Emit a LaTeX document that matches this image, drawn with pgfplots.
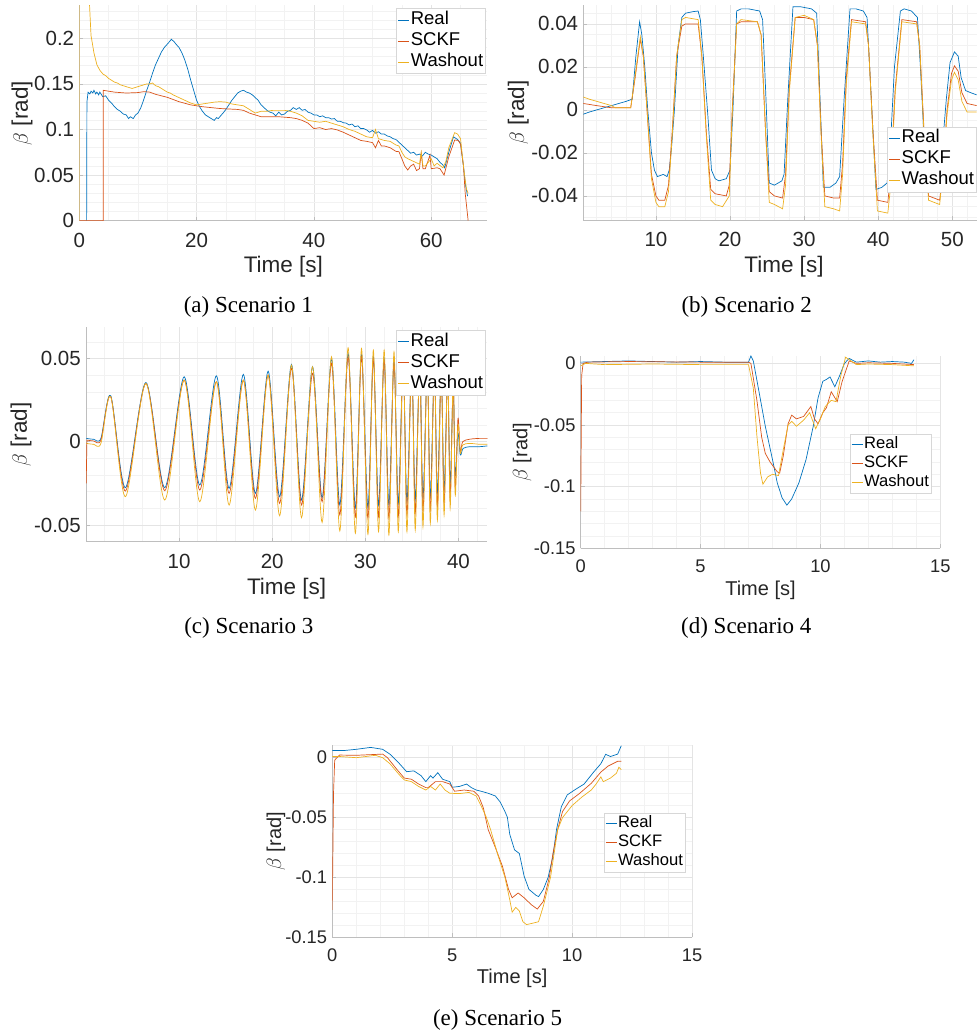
\documentclass[border=0pt]{standalone}
\usepackage{pgfplots}
\pgfplotsset{compat=1.18}
\usepackage{fontspec}
\setmainfont{Liberation Sans}
\newfontfamily\capfont{Liberation Serif}
\definecolor{creal}{RGB}{0,114,189}
\definecolor{csckf}{RGB}{217,83,25}
\definecolor{cwash}{RGB}{237,177,32}
\definecolor{axisgray}{RGB}{190,190,190}
\definecolor{majorgrid}{RGB}{228,228,228}
\definecolor{minorgrid}{RGB}{242,242,242}
\definecolor{tickcol}{RGB}{38,38,38}
\definecolor{leggray}{RGB}{215,215,215}
\newcommand\fta{\fontsize{20.5}{24}\selectfont}
\newcommand\fla{\fontsize{22.5}{26}\selectfont}
\newcommand\fga{\fontsize{18.5}{22}\selectfont}
\newcommand\ftd{\fontsize{18.3}{22}\selectfont}
\newcommand\fld{\fontsize{20}{24}\selectfont}
\newcommand\fgd{\fontsize{16.6}{20}\selectfont}
\pgfplotsset{
  mystyle/.style={
    scale only axis,
    scaled x ticks=false, scaled y ticks=false,
    axis x line*=bottom, axis y line*=left,
    axis line style={draw=axisgray, line width=0.6pt},
    tick align=inside,
    major tick length=4pt, minor tick length=0pt,
    tick style={draw=axisgray, line width=0.6pt},
    grid=both,
    major grid style={draw=majorgrid, line width=0.5pt},
    minor grid style={draw=minorgrid, line width=0.5pt},
    /pgf/number format/assume math mode=true,
    ticklabel style={text=tickcol, inner sep=1pt},
    xlabel style={text=tickcol, anchor=center},
    ylabel style={text=tickcol, anchor=center},
    legend cell align=left,
    legend image code/.code={\draw[##1] (0pt,0pt) -- (11pt,0pt);},
    legend style={draw=leggray, fill=white, inner xsep=1.5pt, inner ysep=1pt,
      row sep=0pt, nodes={inner sep=1pt, text height=14pt, text depth=5pt}},
    every axis plot/.append style={line width=0.7pt},
    xlabel={Time [s]},
    ylabel={$\beta$ [rad]},
  },
}
\begin{document}
\begin{tikzpicture}
\path[use as bounding box] (0pt,0pt) rectangle (977pt,1034pt);

% ---------------- (a) ----------------
\begin{axis}[mystyle,
  at={(79.3pt,813.3pt)}, anchor=south west,
  width=408.2pt, height=215.2pt,
  xmin=0, xmax=69.6, ymin=0, ymax=0.236,
  xtick={0,20,40,60}, xticklabels={0,20,40,60},
  ytick={0,0.05,0.1,0.15,0.2}, yticklabels={0,0.05,0.1,0.15,0.2},
  minor xtick={5,10,15,25,30,35,45,50,55,65},
  minor ytick={0.01,0.02,0.03,0.04,0.06,0.07,0.08,0.09,0.11,0.12,0.13,0.14,0.16,0.17,0.18,0.19,0.21,0.22,0.23},
  ticklabel style={font=\fta},
  xticklabel style={yshift=-11pt},
  yticklabel style={xshift=-4pt},
  xlabel style={font=\fla, at={(axis description cs:0.5,-0.214)}},
  ylabel style={font=\fla, at={(axis description cs:-0.14,0.5)}},
  legend style={font=\fga, at={(axis description cs:0.996,0.987)}, anchor=north east},
]
\addplot[creal] coordinates {(1.25,0) (1.3,0.13) (1.5,0.141) (1.8,0.139) (2,0.142) (2.3,0.140) (2.5,0.143) (2.8,0.139) (3,0.141) (3.3,0.138) (3.5,0.141) (4,0.136) (4.5,0.137) (5,0.132) (5.5,0.129) (6,0.125) (6.5,0.122) (7,0.120) (7.5,0.117) (8,0.116) (8.4,0.112) (8.7,0.114) (9.2,0.112) (9.6,0.116) (10,0.118) (10.5,0.124) (11,0.133) (11.5,0.143) (12,0.152) (12.5,0.162) (13,0.171) (13.5,0.178) (14,0.185) (14.5,0.190) (15.2,0.195) (15.7,0.199) (16.2,0.196) (16.7,0.192) (17,0.190) (17.5,0.184) (18,0.176) (18.5,0.166) (19,0.154) (19.5,0.143) (20,0.132) (20.5,0.125) (21,0.12) (21.5,0.116) (22,0.114) (22.5,0.112) (23,0.110) (23.4,0.113) (23.7,0.112) (24.5,0.118) (25,0.122) (25.5,0.127) (26,0.132) (26.5,0.136) (27,0.140) (27.5,0.142) (28,0.143) (28.5,0.141) (29,0.14) (29.5,0.138) (30,0.135) (30.5,0.132) (31,0.127) (31.5,0.124) (32,0.121) (32.5,0.119) (33,0.118) (33.5,0.115) (34,0.119) (34.5,0.116) (35,0.117) (35.5,0.120) (36,0.121) (36.5,0.124) (37,0.122) (37.5,0.124) (38,0.121) (38.5,0.122) (39,0.119) (39.5,0.118) (40,0.116) (40.5,0.116) (41,0.114) (41.5,0.115) (42,0.113) (42.5,0.113) (43,0.1115) (43.5,0.112) (44,0.109) (44.5,0.109) (45,0.1075) (45.5,0.107) (46,0.105) (46.5,0.106) (47,0.103) (47.5,0.104) (48,0.101) (48.5,0.101) (49,0.0995) (49.5,0.097) (50,0.099) (50.5,0.096) (51,0.0976) (51.5,0.095) (52,0.095) (52.5,0.093) (53,0.092) (53.5,0.090) (54,0.089) (54.5,0.086) (55,0.083) (55.5,0.080) (56,0.077) (56.5,0.074) (57,0.075) (57.5,0.072) (58,0.073) (58.5,0.071) (59,0.075) (59.5,0.073) (60,0.072) (60.5,0.070) (61,0.068) (61.5,0.064) (62,0.061) (62.3,0.058) (63,0.075) (63.8,0.092) (64.5,0.089) (65,0.085) (65.5,0.06) (65.8,0.041) (66.2,0.027)};
\addlegendentry{Real}
\addplot[csckf] coordinates {(0,0) (4.1,0) (4.1,0.143) (5,0.142) (6,0.141) (8,0.140) (10,0.1405) (11,0.1415) (12,0.141) (13,0.1386) (15,0.1353) (17,0.1305) (19,0.127) (21,0.125) (24,0.123) (27,0.122) (28,0.121) (29,0.118) (30,0.116) (31,0.114) (32,0.114) (34,0.114) (36,0.113) (37,0.112) (38,0.11) (39,0.107) (40,0.101) (41,0.102) (42,0.1) (43,0.101) (44,0.0995) (45,0.097) (46,0.094) (47,0.091) (48,0.088) (49,0.087) (50,0.0856) (50.5,0.08) (51,0.088) (51.5,0.082) (52,0.082) (53,0.08) (54,0.076) (54.5,0.0757) (55,0.068) (55.5,0.06) (56,0.0556) (56.5,0.06) (57,0.062) (57.5,0.055) (58,0.057) (58.3,0.074) (58.6,0.057) (59,0.057) (59.8,0.072) (60,0.057) (61,0.058) (61.5,0.057) (62.2,0.05) (63,0.07) (64,0.0885) (64.6,0.088) (65,0.084) (65.5,0.06) (65.8,0.03) (66.3,0)};
\addlegendentry{SCKF}
\addplot[cwash] coordinates {(0,0) (0.01,0.32) (1.6,0.245) (1.75,0.236) (2.0,0.203) (2.5,0.184) (3,0.171) (3.5,0.165) (4,0.161) (4.5,0.159) (5,0.156) (5.5,0.154) (6,0.152) (6.5,0.151) (7,0.149) (7.5,0.148) (8,0.147) (8.5,0.146) (9,0.145) (9.5,0.146) (10,0.147) (10.5,0.148) (11,0.149) (11.5,0.150) (12,0.15) (12.5,0.151) (13,0.148) (13.5,0.147) (14,0.145) (14.5,0.143) (15,0.141) (15.5,0.140) (16,0.138) (17,0.135) (18,0.132) (19,0.129) (20,0.127) (21,0.128) (22,0.129) (23,0.13) (24,0.1305) (25,0.13) (26,0.128) (27,0.127) (28,0.126) (29,0.122) (30,0.118) (31,0.12) (32,0.12) (33,0.121) (34,0.121) (35,0.121) (36,0.12) (37,0.118) (38,0.115) (39,0.11) (40,0.109) (41,0.108) (42,0.109) (43,0.107) (44,0.105) (45,0.103) (46,0.1) (47,0.098) (48,0.095) (49,0.092) (50,0.091) (50.5,0.1) (51,0.09) (52,0.088) (53,0.087) (54,0.083) (54.5,0.082) (55,0.075) (55.5,0.07) (56,0.068) (57,0.065) (58,0.062) (58.3,0.075) (58.6,0.06) (59,0.06) (60,0.068) (60.5,0.06) (61,0.063) (62,0.058) (62.5,0.065) (63,0.08) (64,0.0965) (64.5,0.095) (65,0.09) (65.5,0.06) (66,0.035) (66.3,0.03)};
\addlegendentry{Washout}
\end{axis}

% ---------------- (b) ----------------
\begin{axis}[mystyle,
  at={(583.3pt,814pt)}, anchor=south west,
  width=393.4pt, height=215pt,
  xmin=0.2, xmax=53.3, ymin=-0.0512, ymax=0.0488,
  xtick={10,20,30,40,50}, xticklabels={10,20,30,40,50},
  ytick={-0.04,-0.02,0,0.02,0.04}, yticklabels={-0.04,-0.02,0,0.02,0.04},
  minor xtick={2,4,6,8,12,14,16,18,22,24,26,28,32,34,36,38,42,44,46,48,52},
  minor ytick={-0.05,-0.045,-0.035,-0.03,-0.025,-0.015,-0.01,-0.005,0.005,0.01,0.015,0.025,0.03,0.035,0.045},
  ticklabel style={font=\fta},
  xticklabel style={yshift=-11pt},
  yticklabel style={xshift=-4pt},
  xlabel style={font=\fla, at={(axis description cs:0.51,-0.217)}},
  ylabel style={font=\fla, at={(axis description cs:-0.165,0.5)}},
  legend style={font=\fga, at={(axis description cs:1.0,0.434)}, anchor=north east},
]
\addplot[creal] coordinates {(0.2,-0.002) (1,-0.001) (2,0) (3,0.001) (4,0.002) (5,0.003) (6,0.004) (6.8,0.005) (7.3,0.025) (7.8,0.041) (8.1,0.035) (8.5,0.02) (8.9,0) (9.4,-0.02) (9.8,-0.028) (10.2,-0.031) (11,-0.030) (11.5,-0.031) (11.8,-0.028) (12.1,-0.018) (12.5,0) (13,0.03) (13.5,0.043) (14,0.045) (15,0.0457) (15.7,0.046) (16,0.042) (16.4,0.025) (17,-0.002) (17.5,-0.028) (18,-0.032) (18.5,-0.033) (19.5,-0.032) (20,-0.028) (20.4,0) (20.9,0.046) (21.5,0.047) (22.5,0.047) (24,0.046) (24.4,0.042) (24.8,0.01) (25.3,-0.034) (26,-0.035) (27,-0.033) (27.3,-0.03) (27.8,0.005) (28.5,0.048) (29.5,0.048) (31,0.047) (31.7,0.045) (32.1,0.01) (32.6,-0.036) (33.5,-0.036) (34.3,-0.034) (34.8,-0.031) (35.4,0.005) (36.2,0.047) (37,0.047) (38,0.046) (38.5,0.043) (39,0.01) (39.7,-0.037) (40.5,-0.036) (41.2,-0.034) (41.6,-0.02) (42.2,0.02) (43.0,0.046) (43.5,0.047) (44.5,0.046) (45.3,0.043) (45.7,0.02) (46.3,-0.02) (46.8,-0.036) (48,-0.036) (48.6,-0.02) (49.2,0.005) (49.7,0.022) (50.3,0.027) (50.8,0.025) (51.2,0.015) (51.8,0.009) (52.5,0.008) (53.3,0.007)};
\addlegendentry{Real}
\addplot[csckf] coordinates {(0.2,0.003) (2,0.002) (4,0.001) (6.6,0.001) (7.2,0.015) (7.9,0.033) (8.3,0.025) (8.8,0) (9.4,-0.03) (10,-0.04) (10.4,-0.042) (11.2,-0.042) (11.7,-0.035) (12.2,-0.01) (12.8,0.025) (13.5,0.039) (14,0.040) (15.7,0.040) (16.2,0.025) (16.8,-0.01) (17.4,-0.037) (18,-0.039) (19.5,-0.04) (19.9,-0.035) (20.3,0) (20.9,0.04) (21.5,0.041) (23.7,0.041) (24.2,0.035) (24.8,-0.01) (25.3,-0.038) (26,-0.04) (27.1,-0.041) (27.5,-0.03) (28,0.01) (28.8,0.043) (30,0.043) (31.3,0.042) (31.8,0.03) (32.3,-0.01) (32.8,-0.04) (34,-0.041) (34.8,-0.041) (35.2,-0.025) (35.7,0.015) (36.4,0.042) (38.3,0.041) (38.7,0.03) (39.3,-0.01) (39.9,-0.042) (41.3,-0.043) (41.7,-0.03) (42.3,0.01) (43.2,0.042) (45.2,0.041) (45.6,0.03) (46.2,-0.01) (46.8,-0.04) (48.3,-0.042) (48.7,-0.03) (49.3,0) (49.9,0.017) (50.3,0.0205) (50.8,0.018) (51.3,0.008) (52,0.003) (53.3,0.002)};
\addlegendentry{SCKF}
\addplot[cwash] coordinates {(0.2,0.006) (1,0.005) (2,0.004) (3,0.003) (4,0.002) (4.5,0.001) (6.6,0.001) (7.2,0.016) (7.9,0.034) (8.3,0.025) (8.8,0) (9.4,-0.032) (10,-0.043) (10.4,-0.045) (11.2,-0.045) (11.7,-0.038) (12.2,-0.012) (12.8,0.025) (13.5,0.042) (14,0.043) (15.7,0.042) (16.2,0.025) (16.8,-0.012) (17.4,-0.042) (18,-0.044) (19,-0.045) (19.9,-0.04) (20.3,-0.002) (20.9,0.040) (21.5,0.042) (23.7,0.041) (24.2,0.035) (24.8,-0.01) (25.3,-0.043) (26,-0.044) (27.1,-0.046) (27.5,-0.035) (28,0.008) (28.8,0.043) (30,0.044) (31.3,0.042) (31.8,0.03) (32.3,-0.012) (32.8,-0.045) (34,-0.046) (34.8,-0.047) (35.2,-0.03) (35.7,0.012) (36.4,0.041) (38.3,0.04) (38.7,0.03) (39.3,-0.012) (39.9,-0.047) (41.3,-0.048) (41.7,-0.035) (42.3,0.008) (43.2,0.041) (45.2,0.04) (45.6,0.03) (46.2,-0.012) (46.8,-0.042) (48.3,-0.044) (48.7,-0.03) (49.3,-0.002) (49.9,0.014) (50.3,0.0175) (50.8,0.014) (51.3,0.004) (52,-0.001) (53.3,-0.001)};
\addlegendentry{Washout}
\end{axis}

% ---------------- (c) ----------------
\begin{axis}[mystyle,
  at={(86pt,492.3pt)}, anchor=south west,
  width=401.3pt, height=214.4pt,
  xmin=0, xmax=43.1, ymin=-0.06, ymax=0.0687,
  xtick={10,20,30,40}, xticklabels={10,20,30,40},
  ytick={-0.05,0,0.05}, yticklabels={-0.05,0,0.05},
  minor xtick={2,4,6,8,12,14,16,18,22,24,26,28,32,34,36,38,42},
  minor ytick={-0.04,-0.03,-0.02,-0.01,0.01,0.02,0.03,0.04,0.06},
  ticklabel style={font=\fta},
  xticklabel style={yshift=-11pt},
  yticklabel style={xshift=-4pt},
  xlabel style={font=\fla, at={(axis description cs:0.5,-0.217)}},
  ylabel style={font=\fla, at={(axis description cs:-0.162,0.5)}},
  legend style={font=\fga, at={(axis description cs:0.996,0.988)}, anchor=north east},
]
\addplot[creal, smooth, tension=0.5] coordinates {(0.05,0.002) (0.8,0.0015) (1.6,0.002) (2.66,0.0276) (4.24,-0.0276) (6.43,0.0356) (8.46,-0.0276) (10.54,0.039) (12.22,-0.026) (14.0,0.0396) (15.37,-0.028) (16.9,0.0404) (18.2,-0.031) (19.56,0.0424) (20.8,-0.033) (22.07,0.0464) (23.15,-0.035) (24.33,0.045) (25.36,-0.0336) (26.37,0.05) (27.26,-0.038) (28.15,0.053) (28.93,-0.0396) (29.59,0.053) (30.28,-0.0396) (30.86,0.051) (31.42,-0.038) (32.02,0.05) (32.53,-0.038) (33.08,0.049) (33.54,-0.037) (34.06,0.048) (34.47,-0.036) (34.98,0.047) (35.36,-0.035) (35.84,0.046) (36.19,-0.034) (36.65,0.045) (36.98,-0.033) (37.42,0.044) (37.74,-0.031) (38.15,0.043) (38.46,-0.029) (38.84,0.041) (39.11,-0.026) (39.44,0.035) (39.65,-0.02) (39.95,0.005) (40.2,-0.008) (40.5,-0.004) (41.2,-0.003) (42.2,-0.003) (43.1,-0.0025)};
\addlegendentry{Real}
\addplot[csckf, smooth, tension=0.5] coordinates {(0.1,0.001) (0.8,0.0005) (1.6,0.001) (2.66,0.027) (4.24,-0.0296) (6.43,0.035) (8.46,-0.0294) (10.54,0.037) (12.22,-0.029) (14.0,0.036) (15.37,-0.031) (16.9,0.037) (18.2,-0.034) (19.56,0.040) (20.8,-0.037) (22.07,0.044) (23.15,-0.038) (24.33,0.041) (25.36,-0.036) (26.37,0.047) (27.26,-0.044) (28.15,0.051) (28.93,-0.045) (29.59,0.051) (30.28,-0.046) (30.86,0.050) (31.42,-0.045) (32.02,0.049) (32.53,-0.046) (33.08,0.048) (33.54,-0.045) (34.06,0.047) (34.47,-0.044) (34.98,0.046) (35.36,-0.043) (35.84,0.045) (36.19,-0.042) (36.65,0.044) (36.98,-0.041) (37.42,0.043) (37.74,-0.039) (38.15,0.041) (38.46,-0.037) (38.84,0.039) (39.11,-0.034) (39.44,0.035) (39.65,-0.028) (39.95,0.014) (40.2,-0.006) (40.45,0.0) (41.2,0.0015) (42.2,0.002) (43.1,0.002)};
\addlegendentry{SCKF}
\addplot[cwash, smooth, tension=0.5] coordinates {(0.05,-0.001) (0.8,-0.0015) (1.6,-0.001) (2.66,0.027) (4.24,-0.033) (6.43,0.035) (8.46,-0.035) (10.54,0.037) (12.22,-0.036) (14.0,0.036) (15.37,-0.038) (16.9,0.037) (18.2,-0.041) (19.56,0.040) (20.8,-0.0444) (22.07,0.046) (23.15,-0.0456) (24.33,0.045) (25.36,-0.0484) (26.37,0.051) (27.26,-0.0536) (28.15,0.0564) (28.93,-0.055) (29.59,0.056) (30.28,-0.0556) (30.86,0.055) (31.42,-0.054) (32.02,0.055) (32.53,-0.056) (33.08,0.054) (33.54,-0.054) (34.06,0.053) (34.47,-0.054) (34.98,0.052) (35.36,-0.053) (35.84,0.051) (36.19,-0.051) (36.65,0.05) (36.98,-0.049) (37.42,0.049) (37.74,-0.047) (38.15,0.047) (38.46,-0.044) (38.84,0.045) (39.11,-0.040) (39.44,0.040) (39.65,-0.032) (39.95,0.01) (40.2,-0.007) (40.45,-0.002) (41.2,-0.001) (42.2,-0.0015) (43.1,-0.0015)};
\addlegendentry{Washout}
\addplot[csckf, forget plot] coordinates {(0.02,-0.025) (0.1,0.001)};
\end{axis}

% ---------------- (d) ----------------
\begin{axis}[mystyle,
  at={(580.7pt,485.7pt)}, anchor=south west,
  width=359.6pt, height=192.3pt,
  xmin=0, xmax=15, ymin=-0.15, ymax=0.006,
  xtick={0,5,10,15}, xticklabels={0,5,10,15},
  ytick={-0.15,-0.1,-0.05,0}, yticklabels={-0.15,-0.1,-0.05,0},
  minor xtick={1,2,3,4,6,7,8,9,11,12,13,14},
  minor ytick={-0.14,-0.13,-0.12,-0.11,-0.09,-0.08,-0.07,-0.06,-0.04,-0.03,-0.02,-0.01},
  ticklabel style={font=\ftd},
  xticklabel style={yshift=-10pt},
  yticklabel style={xshift=-4pt},
  xlabel style={font=\fld, at={(axis description cs:0.5,-0.217)}},
  ylabel style={font=\fld, at={(axis description cs:-0.163,0.5)}},
  legend style={font=\fgd, at={(axis description cs:0.976,0.594)}, anchor=north east,
    nodes={inner sep=1pt, text height=12.5pt, text depth=4.5pt}},
]
\addplot[creal] coordinates {(0,0.001) (1,0.0015) (2,0.002) (3,0.0015) (4,0.001) (5,0.0015) (6,0.001) (7.0,0.001) (7.1,0.006) (7.2,0.002) (7.4,-0.019) (7.7,-0.051) (8.0,-0.078) (8.2,-0.097) (8.4,-0.109) (8.6,-0.115) (8.8,-0.11) (9.1,-0.097) (9.4,-0.078) (9.7,-0.051) (9.9,-0.028) (10.1,-0.0145) (10.25,-0.013) (10.4,-0.011) (10.6,-0.019) (10.8,-0.01) (11.0,0) (11.2,0.004) (11.5,0.001) (12,0.002) (12.5,0.001) (13,0.0015) (13.5,0.001) (13.8,0.0) (13.9,0.003)};
\addlegendentry{Real}
\addplot[csckf] coordinates {(0,-0.12) (0.04,-0.01) (0.1,0.0) (0.3,0.001) (2,0.0015) (5,0.001) (7.0,0.001) (7.1,0) (7.35,-0.03) (7.55,-0.06) (7.7,-0.073) (7.9,-0.08) (8.2,-0.088) (8.3,-0.089) (8.45,-0.075) (8.65,-0.049) (8.8,-0.042) (9.0,-0.045) (9.3,-0.043) (9.6,-0.035) (9.75,-0.045) (9.9,-0.049) (10.1,-0.04) (10.25,-0.036) (10.45,-0.023) (10.7,-0.031) (10.9,-0.015) (11.2,0.002) (11.5,0) (12,0.0005) (13,0.0) (13.9,-0.001)};
\addlegendentry{SCKF}
\addplot[cwash] coordinates {(0,-0.002) (0.2,0) (1,-0.001) (3,-0.0005) (5,-0.001) (7.0,-0.001) (7.2,-0.02) (7.35,-0.059) (7.5,-0.089) (7.6,-0.098) (7.8,-0.092) (8.0,-0.09) (8.25,-0.091) (8.45,-0.07) (8.65,-0.05) (8.8,-0.047) (9.0,-0.051) (9.3,-0.046) (9.55,-0.04) (9.8,-0.053) (10.0,-0.045) (10.2,-0.035) (10.45,-0.03) (10.65,-0.031) (10.85,-0.01) (11.05,0.005) (11.2,0.003) (11.5,-0.001) (12,-0.0005) (13,-0.001) (13.9,-0.002)};
\addlegendentry{Washout}
\end{axis}

% ---------------- (e) ----------------
\begin{axis}[mystyle,
  at={(332.3pt,96.7pt)}, anchor=south west,
  width=359.7pt, height=192.3pt,
  xmin=0, xmax=15, ymin=-0.15, ymax=0.0106,
  xtick={0,5,10,15}, xticklabels={0,5,10,15},
  ytick={-0.15,-0.1,-0.05,0}, yticklabels={-0.15,-0.1,-0.05,0},
  minor xtick={1,2,3,4,6,7,8,9,11,12,13,14},
  minor ytick={-0.14,-0.13,-0.12,-0.11,-0.09,-0.08,-0.07,-0.06,-0.04,-0.03,-0.02,-0.01,0.01},
  ticklabel style={font=\ftd},
  xticklabel style={yshift=-10pt},
  yticklabel style={xshift=-4pt},
  xlabel style={font=\fld, at={(axis description cs:0.5,-0.213)}},
  ylabel style={font=\fld, at={(axis description cs:-0.157,0.5)}},
  legend style={font=\fgd, at={(axis description cs:0.9825,0.648)}, anchor=north east,
    nodes={inner sep=1pt, text height=12.5pt, text depth=4.5pt}},
]
\addplot[creal] coordinates {(0,0.006) (0.5,0.006) (1.0,0.007) (1.6,0.0086) (2.1,0.007) (2.4,0.003) (2.8,-0.005) (3.1,-0.0117) (3.4,-0.011) (3.7,-0.015) (3.9,-0.02) (4.1,-0.015) (4.2,-0.017) (4.4,-0.0125) (4.6,-0.018) (4.9,-0.02) (5.0,-0.0247) (5.3,-0.024) (5.6,-0.022) (5.8,-0.025) (6.0,-0.027) (6.2,-0.028) (6.5,-0.0297) (6.8,-0.032) (7.0,-0.037) (7.2,-0.045) (7.3,-0.0497) (7.4,-0.064) (7.6,-0.077) (7.8,-0.08) (8.0,-0.099) (8.2,-0.11) (8.5,-0.115) (8.6,-0.116) (8.8,-0.11) (9.0,-0.1) (9.2,-0.0825) (9.35,-0.06) (9.55,-0.041) (9.8,-0.031) (10.1,-0.027) (10.5,-0.022) (10.9,-0.012) (11.2,-0.005) (11.4,0.0028) (11.6,0.001) (11.9,0.003) (12.05,0.01)};
\addlegendentry{Real}
\addplot[csckf] coordinates {(0,-0.127) (0.05,-0.03) (0.1,-0.002) (0.3,0.0022) (1,0.002) (2.1,0.003) (2.3,0) (2.7,-0.01) (3.0,-0.017) (3.3,-0.018) (3.6,-0.022) (3.9,-0.025) (4.0,-0.025) (4.3,-0.02) (4.6,-0.02) (4.9,-0.022) (5.1,-0.028) (5.5,-0.027) (5.9,-0.028) (6.1,-0.032) (6.3,-0.042) (6.5,-0.06) (6.8,-0.075) (7.1,-0.091) (7.35,-0.11) (7.5,-0.117) (7.75,-0.113) (8.0,-0.117) (8.3,-0.1228) (8.55,-0.1264) (8.8,-0.12) (9.05,-0.1) (9.2,-0.08) (9.4,-0.06) (9.6,-0.045) (9.9,-0.036) (10.3,-0.03) (10.8,-0.0214) (11.2,-0.012) (11.5,-0.007) (11.9,-0.003) (12.05,-0.003)};
\addlegendentry{SCKF}
\addplot[cwash] coordinates {(0,0.001) (0.3,0.001) (1.0,0.0) (1.8,0.002) (2.1,0) (2.4,-0.005) (2.8,-0.0144) (3.0,-0.0186) (3.3,-0.02) (3.6,-0.024) (3.9,-0.027) (4.1,-0.024) (4.3,-0.027) (4.5,-0.022) (4.7,-0.027) (4.9,-0.0297) (5.3,-0.03) (5.7,-0.029) (6.0,-0.032) (6.2,-0.04) (6.4,-0.0486) (6.6,-0.06) (6.9,-0.081) (7.2,-0.1) (7.4,-0.1186) (7.5,-0.129) (7.65,-0.125) (7.8,-0.128) (7.95,-0.137) (8.1,-0.1394) (8.4,-0.138) (8.6,-0.137) (8.8,-0.124) (9.1,-0.1) (9.25,-0.08) (9.4,-0.06) (9.6,-0.05) (10.0,-0.04) (10.4,-0.033) (10.8,-0.027) (11.0,-0.022) (11.2,-0.016) (11.3,-0.02) (11.6,-0.017) (11.85,-0.013) (11.95,-0.008) (12.05,-0.01)};
\addlegendentry{Washout}
\end{axis}

% captions
\node[font=\capfont\fontsize{23}{27}\selectfont, anchor=center] at (248.3pt,727pt) {(a) Scenario 1};
\node[font=\capfont\fontsize{23}{27}\selectfont, anchor=center] at (746.7pt,727pt) {(b) Scenario 2};
\node[font=\capfont\fontsize{23}{27}\selectfont, anchor=center] at (248.8pt,406pt) {(c) Scenario 3};
\node[font=\capfont\fontsize{23}{27}\selectfont, anchor=center] at (746.3pt,406pt) {(d) Scenario 4};
\node[font=\capfont\fontsize{23}{27}\selectfont, anchor=center] at (497.5pt,14pt) {(e) Scenario 5};
\end{tikzpicture}
\end{document}
